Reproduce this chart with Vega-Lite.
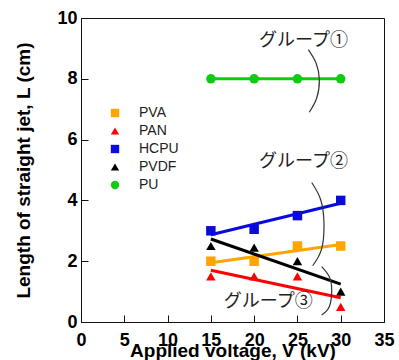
{
  "$schema": "https://vega.github.io/schema/vega-lite/v6.json",
  "width": 303,
  "height": 304,
  "autosize": {"type": "none"},
  "padding": {"left": 81, "top": 18, "right": 15, "bottom": 38},
  "background": "white",
  "config": {
    "view": {"stroke": "#111", "strokeWidth": 1},
    "font": "Liberation Sans",
    "axis": {
      "grid": false,
      "domainColor": "#111",
      "tickColor": "#111",
      "tickSize": -7,
      "labelFont": "Liberation Sans",
      "labelFontSize": 18,
      "labelFontWeight": "bold",
      "labelColor": "#000",
      "labelFlush": false,
      "labelOverlap": false,
      "titleFont": "Liberation Sans",
      "titleFontSize": 19,
      "titleFontWeight": "bold",
      "titleColor": "#000"
    }
  },
  "datasets": {
    "pts": [
      {"series": "PVA", "voltage": 15, "length": 2.0},
      {"series": "PVA", "voltage": 20, "length": 2.0},
      {"series": "PVA", "voltage": 25, "length": 2.5},
      {"series": "PVA", "voltage": 30, "length": 2.5},
      {"series": "PAN", "voltage": 15, "length": 1.5},
      {"series": "PAN", "voltage": 20, "length": 1.5},
      {"series": "PAN", "voltage": 25, "length": 1.5},
      {"series": "PAN", "voltage": 30, "length": 0.5},
      {"series": "HCPU", "voltage": 15, "length": 3.0},
      {"series": "HCPU", "voltage": 20, "length": 3.05},
      {"series": "HCPU", "voltage": 25, "length": 3.5},
      {"series": "HCPU", "voltage": 30, "length": 4.0},
      {"series": "PVDF", "voltage": 15, "length": 2.5},
      {"series": "PVDF", "voltage": 20, "length": 2.45},
      {"series": "PVDF", "voltage": 25, "length": 2.0},
      {"series": "PVDF", "voltage": 30, "length": 1.0},
      {"series": "PU", "voltage": 15, "length": 8.0},
      {"series": "PU", "voltage": 20, "length": 8.0},
      {"series": "PU", "voltage": 25, "length": 8.0},
      {"series": "PU", "voltage": 30, "length": 8.0}
    ],
    "ann": [
      {"label": "グループ①", "x": 25.71, "y": 9.24},
      {"label": "グループ②", "x": 25.71, "y": 5.26},
      {"label": "グループ③", "x": 21.63, "y": 0.67}
    ],
    "brace": [
      {"g": 1, "ord": 1, "x": 26.26, "y": 8.96},
      {"g": 1, "ord": 2, "x": 27.15, "y": 8.52},
      {"g": 1, "ord": 3, "x": 27.53, "y": 7.97},
      {"g": 1, "ord": 4, "x": 27.23, "y": 7.37},
      {"g": 1, "ord": 5, "x": 26.37, "y": 6.90},
      {"g": 2, "ord": 1, "x": 26.65, "y": 4.59},
      {"g": 2, "ord": 2, "x": 27.69, "y": 4.02},
      {"g": 2, "ord": 3, "x": 28.07, "y": 3.20},
      {"g": 2, "ord": 4, "x": 27.76, "y": 2.37},
      {"g": 2, "ord": 5, "x": 26.76, "y": 1.85},
      {"g": 3, "ord": 1, "x": 27.80, "y": 1.82},
      {"g": 3, "ord": 2, "x": 28.68, "y": 1.49},
      {"g": 3, "ord": 3, "x": 28.96, "y": 1.05},
      {"g": 3, "ord": 4, "x": 28.68, "y": 0.50},
      {"g": 3, "ord": 5, "x": 27.80, "y": 0.23}
    ]
  },
  "layer": [
    {
      "data": {"name": "pts"},
      "mark": {"type": "point", "filled": true, "size": 90, "opacity": 1},
      "encoding": {
        "x": {
          "field": "voltage", "type": "quantitative",
          "scale": {"domain": [0, 35], "nice": false, "zero": false},
          "axis": {"title": "Applied voltage, V (kV)", "values": [0, 5, 10, 15, 20, 25, 30, 35], "labelPadding": 16, "titleY": 19, "titleBaseline": "top"}
        },
        "y": {
          "field": "length", "type": "quantitative",
          "scale": {"domain": [0, 10], "nice": false, "zero": false},
          "axis": {"title": "Length of straight jet, L (cm)", "values": [0, 2, 4, 6, 8, 10], "labelPadding": 11, "titlePadding": 23}
        },
        "color": {
          "field": "series", "type": "nominal",
          "scale": {"domain": ["PVA", "PAN", "HCPU", "PVDF", "PU"], "range": ["#FFA500", "#FF0000", "#0A0ADF", "#000000", "#10CC10"]},
          "legend": {
            "title": null, "orient": "none", "legendX": 27, "legendY": 88,
            "labelFont": "Liberation Sans", "labelFontSize": 14, "labelColor": "#222",
            "symbolSize": 70, "rowPadding": 4, "labelOffset": 17, "symbolStrokeWidth": 0
          }
        },
        "shape": {
          "field": "series", "type": "nominal",
          "scale": {"domain": ["PVA", "PAN", "HCPU", "PVDF", "PU"], "range": ["square", "triangle-up", "square", "triangle-up", "circle"]}
        }
      }
    },
    {
      "data": {"name": "pts"},
      "transform": [{"regression": "length", "on": "voltage", "groupby": ["series"]}],
      "mark": {"type": "line", "strokeWidth": 3},
      "encoding": {
        "x": {"field": "voltage", "type": "quantitative"},
        "y": {"field": "length", "type": "quantitative"},
        "color": {"field": "series", "type": "nominal", "legend": null}
      }
    },
    {
      "data": {"name": "brace"},
      "mark": {"type": "line", "interpolate": "natural", "color": "#333", "strokeWidth": 1.2},
      "encoding": {
        "x": {"field": "x", "type": "quantitative"},
        "y": {"field": "y", "type": "quantitative"},
        "detail": {"field": "g", "type": "nominal"},
        "order": {"field": "ord", "type": "quantitative"}
      }
    },
    {
      "data": {"name": "ann"},
      "mark": {"type": "text", "font": "Noto Sans CJK JP", "fontSize": 18, "color": "#222", "align": "center", "baseline": "middle"},
      "encoding": {
        "x": {"field": "x", "type": "quantitative"},
        "y": {"field": "y", "type": "quantitative"},
        "text": {"field": "label"}
      }
    }
  ]
}
